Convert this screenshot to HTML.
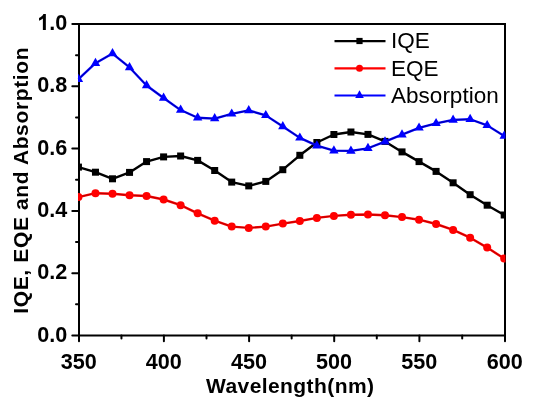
<!DOCTYPE html>
<html><head><meta charset="utf-8"><style>
html,body{margin:0;padding:0;background:#fff;}
body{width:550px;height:406px;overflow:hidden;}
svg{display:block;will-change:transform;filter:blur(0.5px);}
text{font-family:"Liberation Sans",sans-serif;}
</style></head><body>
<svg width="550" height="406" viewBox="0 0 550 406">
<rect width="550" height="406" fill="#fff"/>
<g stroke="#000" stroke-width="2" fill="none" stroke-linecap="round">
<rect x="79.0" y="24.0" width="426.0" height="311.5"/>
<line x1="79.00" y1="335.5" x2="79.00" y2="341.3"/><line x1="163.90" y1="335.5" x2="163.90" y2="341.3"/><line x1="249.10" y1="335.5" x2="249.10" y2="341.3"/><line x1="334.20" y1="335.5" x2="334.20" y2="341.3"/><line x1="419.40" y1="335.5" x2="419.40" y2="341.3"/><line x1="505.00" y1="335.5" x2="505.00" y2="341.3"/><line x1="121.45" y1="335.5" x2="121.45" y2="338.5"/><line x1="206.50" y1="335.5" x2="206.50" y2="338.5"/><line x1="291.65" y1="335.5" x2="291.65" y2="338.5"/><line x1="376.80" y1="335.5" x2="376.80" y2="338.5"/><line x1="462.20" y1="335.5" x2="462.20" y2="338.5"/><line x1="79.0" y1="335.50" x2="72.3" y2="335.50"/><line x1="79.0" y1="273.20" x2="72.3" y2="273.20"/><line x1="79.0" y1="210.90" x2="72.3" y2="210.90"/><line x1="79.0" y1="148.60" x2="72.3" y2="148.60"/><line x1="79.0" y1="86.30" x2="72.3" y2="86.30"/><line x1="79.0" y1="24.00" x2="72.3" y2="24.00"/><line x1="79.0" y1="304.35" x2="76" y2="304.35"/><line x1="79.0" y1="242.05" x2="76" y2="242.05"/><line x1="79.0" y1="179.75" x2="76" y2="179.75"/><line x1="79.0" y1="117.45" x2="76" y2="117.45"/><line x1="79.0" y1="55.15" x2="76" y2="55.15"/>
</g>
<defs><clipPath id="c"><rect x="78" y="0" width="427.5" height="406"/></clipPath></defs>
<polyline points="78.45,167.10 95.48,172.20 112.51,178.80 129.54,172.40 146.57,161.60 163.60,156.90 180.63,156.00 197.66,160.40 214.69,170.50 231.72,182.10 248.75,185.90 265.78,181.40 282.81,169.70 299.84,155.30 316.87,142.50 333.90,134.50 350.93,132.00 367.96,134.40 384.99,141.40 402.02,151.90 419.05,161.60 436.08,171.40 453.11,182.80 470.14,194.70 487.17,205.20 504.20,215.00" fill="none" stroke-linejoin="round" stroke="#000" stroke-width="2.4"/>
<g fill="#000" clip-path="url(#c)"><rect x="74.95" y="163.60" width="7.0" height="7.0"/><rect x="91.98" y="168.70" width="7.0" height="7.0"/><rect x="109.01" y="175.30" width="7.0" height="7.0"/><rect x="126.04" y="168.90" width="7.0" height="7.0"/><rect x="143.07" y="158.10" width="7.0" height="7.0"/><rect x="160.10" y="153.40" width="7.0" height="7.0"/><rect x="177.13" y="152.50" width="7.0" height="7.0"/><rect x="194.16" y="156.90" width="7.0" height="7.0"/><rect x="211.19" y="167.00" width="7.0" height="7.0"/><rect x="228.22" y="178.60" width="7.0" height="7.0"/><rect x="245.25" y="182.40" width="7.0" height="7.0"/><rect x="262.28" y="177.90" width="7.0" height="7.0"/><rect x="279.31" y="166.20" width="7.0" height="7.0"/><rect x="296.34" y="151.80" width="7.0" height="7.0"/><rect x="313.37" y="139.00" width="7.0" height="7.0"/><rect x="330.40" y="131.00" width="7.0" height="7.0"/><rect x="347.43" y="128.50" width="7.0" height="7.0"/><rect x="364.46" y="130.90" width="7.0" height="7.0"/><rect x="381.49" y="137.90" width="7.0" height="7.0"/><rect x="398.52" y="148.40" width="7.0" height="7.0"/><rect x="415.55" y="158.10" width="7.0" height="7.0"/><rect x="432.58" y="167.90" width="7.0" height="7.0"/><rect x="449.61" y="179.30" width="7.0" height="7.0"/><rect x="466.64" y="191.20" width="7.0" height="7.0"/><rect x="483.67" y="201.70" width="7.0" height="7.0"/><rect x="500.70" y="211.50" width="7.0" height="7.0"/></g>
<polyline points="78.45,197.10 95.48,193.20 112.51,193.80 129.54,195.20 146.57,196.00 163.60,199.50 180.63,205.20 197.66,213.30 214.69,220.70 231.72,226.60 248.75,227.90 265.78,226.60 282.81,223.60 299.84,221.00 316.87,217.90 333.90,215.90 350.93,214.80 367.96,214.50 384.99,215.30 402.02,217.10 419.05,219.70 436.08,224.00 453.11,229.90 470.14,237.70 487.17,247.60 504.20,258.60" fill="none" stroke-linejoin="round" stroke="#ff0000" stroke-width="2.4"/>
<polyline points="78.45,197.10 95.48,193.20 112.51,193.80 129.54,195.20 146.57,196.00 163.60,199.50 180.63,205.20 197.66,213.30 214.69,220.70 231.72,226.60 248.75,227.90 265.78,226.60 282.81,223.60 299.84,221.00 316.87,217.90 333.90,215.90 350.93,214.80 367.96,214.50 384.99,215.30 402.02,217.10 419.05,219.70 436.08,224.00 453.11,229.90 470.14,237.70 487.17,247.60 504.20,258.60" fill="none" stroke-linejoin="round" stroke="#b00000" stroke-width="0.9"/>
<g fill="#ff0000" clip-path="url(#c)"><circle cx="78.45" cy="197.10" r="4.0"/><circle cx="95.48" cy="193.20" r="4.0"/><circle cx="112.51" cy="193.80" r="4.0"/><circle cx="129.54" cy="195.20" r="4.0"/><circle cx="146.57" cy="196.00" r="4.0"/><circle cx="163.60" cy="199.50" r="4.0"/><circle cx="180.63" cy="205.20" r="4.0"/><circle cx="197.66" cy="213.30" r="4.0"/><circle cx="214.69" cy="220.70" r="4.0"/><circle cx="231.72" cy="226.60" r="4.0"/><circle cx="248.75" cy="227.90" r="4.0"/><circle cx="265.78" cy="226.60" r="4.0"/><circle cx="282.81" cy="223.60" r="4.0"/><circle cx="299.84" cy="221.00" r="4.0"/><circle cx="316.87" cy="217.90" r="4.0"/><circle cx="333.90" cy="215.90" r="4.0"/><circle cx="350.93" cy="214.80" r="4.0"/><circle cx="367.96" cy="214.50" r="4.0"/><circle cx="384.99" cy="215.30" r="4.0"/><circle cx="402.02" cy="217.10" r="4.0"/><circle cx="419.05" cy="219.70" r="4.0"/><circle cx="436.08" cy="224.00" r="4.0"/><circle cx="453.11" cy="229.90" r="4.0"/><circle cx="470.14" cy="237.70" r="4.0"/><circle cx="487.17" cy="247.60" r="4.0"/><circle cx="504.20" cy="258.60" r="4.0"/></g>
<polyline points="78.45,79.17 95.48,63.17 112.51,53.57 129.54,67.47 146.57,85.47 163.60,97.97 180.63,110.07 197.66,117.77 214.69,118.57 231.72,113.87 248.75,110.47 265.78,115.37 282.81,126.47 299.84,137.87 316.87,145.67 333.90,150.67 350.93,150.97 367.96,148.27 384.99,141.67 402.02,134.67 419.05,127.87 436.08,123.37 453.11,119.97 470.14,119.27 487.17,125.37 504.20,135.97" fill="none" stroke-linejoin="round" stroke="#0000ff" stroke-width="2.3"/>
<polyline points="78.45,79.17 95.48,63.17 112.51,53.57 129.54,67.47 146.57,85.47 163.60,97.97 180.63,110.07 197.66,117.77 214.69,118.57 231.72,113.87 248.75,110.47 265.78,115.37 282.81,126.47 299.84,137.87 316.87,145.67 333.90,150.67 350.93,150.97 367.96,148.27 384.99,141.67 402.02,134.67 419.05,127.87 436.08,123.37 453.11,119.97 470.14,119.27 487.17,125.37 504.20,135.97" fill="none" stroke-linejoin="round" stroke="#00009a" stroke-width="0.9"/>
<g fill="#0000ff" clip-path="url(#c)"><path d="M78.45,73.70L83.15,81.90L73.75,81.90Z"/><path d="M95.48,57.70L100.18,65.90L90.78,65.90Z"/><path d="M112.51,48.10L117.21,56.30L107.81,56.30Z"/><path d="M129.54,62.00L134.24,70.20L124.84,70.20Z"/><path d="M146.57,80.00L151.27,88.20L141.87,88.20Z"/><path d="M163.60,92.50L168.30,100.70L158.90,100.70Z"/><path d="M180.63,104.60L185.33,112.80L175.93,112.80Z"/><path d="M197.66,112.30L202.36,120.50L192.96,120.50Z"/><path d="M214.69,113.10L219.39,121.30L209.99,121.30Z"/><path d="M231.72,108.40L236.42,116.60L227.02,116.60Z"/><path d="M248.75,105.00L253.45,113.20L244.05,113.20Z"/><path d="M265.78,109.90L270.48,118.10L261.08,118.10Z"/><path d="M282.81,121.00L287.51,129.20L278.11,129.20Z"/><path d="M299.84,132.40L304.54,140.60L295.14,140.60Z"/><path d="M316.87,140.20L321.57,148.40L312.17,148.40Z"/><path d="M333.90,145.20L338.60,153.40L329.20,153.40Z"/><path d="M350.93,145.50L355.63,153.70L346.23,153.70Z"/><path d="M367.96,142.80L372.66,151.00L363.26,151.00Z"/><path d="M384.99,136.20L389.69,144.40L380.29,144.40Z"/><path d="M402.02,129.20L406.72,137.40L397.32,137.40Z"/><path d="M419.05,122.40L423.75,130.60L414.35,130.60Z"/><path d="M436.08,117.90L440.78,126.10L431.38,126.10Z"/><path d="M453.11,114.50L457.81,122.70L448.41,122.70Z"/><path d="M470.14,113.80L474.84,122.00L465.44,122.00Z"/><path d="M487.17,119.90L491.87,128.10L482.47,128.10Z"/><path d="M504.20,130.50L508.90,138.70L499.50,138.70Z"/></g>
<g font-weight="bold" font-size="21" text-anchor="middle" fill="#000"><text transform="translate(78.85,369.4) scale(1.03,1.07)">350</text><text transform="translate(163.75,369.4) scale(1.03,1.07)">400</text><text transform="translate(248.95,369.4) scale(1.03,1.07)">450</text><text transform="translate(334.05,369.4) scale(1.03,1.07)">500</text><text transform="translate(419.25,369.4) scale(1.03,1.07)">550</text><text transform="translate(504.85,369.4) scale(1.03,1.07)">600</text></g>
<g font-weight="bold" font-size="21" text-anchor="end" fill="#000"><text transform="translate(67.2,341.50) scale(1.03,1.07)">0.0</text><text transform="translate(67.2,279.20) scale(1.03,1.07)">0.2</text><text transform="translate(67.2,216.90) scale(1.03,1.07)">0.4</text><text transform="translate(67.2,154.60) scale(1.03,1.07)">0.6</text><text transform="translate(67.2,92.30) scale(1.03,1.07)">0.8</text><text transform="translate(67.2,30.00) scale(1.03,1.07)">.0</text><path transform="translate(37.131,30.000) scale(0.010562,-0.010972)" d="M825 0H544V1059C450 970 320 890 181 846V1101C260 1127 350 1180 430 1250C510 1320 570 1400 597 1466H825Z"/></g>
<text x="206.0" y="392.5" font-weight="bold" font-size="21.0" textLength="168.0" lengthAdjust="spacing">Wavelength(nm)</text>
<text transform="translate(28,313.7) rotate(-90)" font-weight="bold" font-size="21.0" textLength="266.2" lengthAdjust="spacing">IQE, EQE and Absorption</text>
<g stroke-width="2.2">
<line x1="334.5" y1="41.2" x2="385.5" y2="41.2" stroke="#000"/>
<line x1="334.5" y1="68.3" x2="385.5" y2="68.3" stroke="#ff0000"/>
<line x1="334.5" y1="95.5" x2="385.5" y2="95.5" stroke="#0000ff"/>
</g>
<rect x="356.4" y="37.9" width="6.2" height="6.2" fill="#000"/>
<circle cx="359.5" cy="68.3" r="3.5" fill="#ff0000"/>
<path d="M359.5,90.3L363.8,97.9L355.2,97.9Z" fill="#0000ff"/>
<g font-size="22.5" fill="#000">
<text x="391" y="48.3">IQE</text>
<text x="391" y="76.2">EQE</text>
<text x="391.1" y="103.3">Absorption</text>
</g>
</svg>
</body></html>
